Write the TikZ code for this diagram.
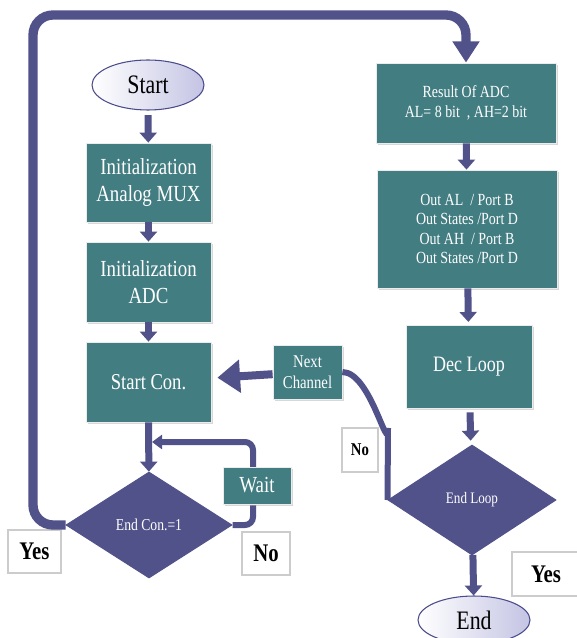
\documentclass[tikz,border=0pt]{standalone}
\usepackage{fontspec}
\setmainfont{Liberation Serif}[FakeStretch=0.82]
\usetikzlibrary{shapes.geometric,arrows.meta,shadows}

\definecolor{boxteal}{RGB}{66,125,130}
\definecolor{flowblue}{RGB}{82,82,138}
\definecolor{ovalrim}{RGB}{75,75,140}
\definecolor{lilac}{RGB}{196,196,228}

\tikzset{every picture/.style={line width=0.75pt}}
\tikzset{
  stepbox/.style={rectangle, fill=boxteal, draw=white!85!gray, line width=0.6pt, text=white, align=center, inner sep=1pt,
    drop shadow={shadow xshift=1.2pt, shadow yshift=-1.5pt, fill=black!30}},
  decision/.style={diamond, fill=flowblue, draw=flowblue, text=white, inner sep=0pt, align=center},
  terminal/.style={ellipse, draw=ovalrim, line width=0.8pt, left color=white, right color=lilac, inner sep=0pt},
  answer/.style={rectangle, fill=white, draw=black!20, line width=0.8pt, font=\bfseries\fontsize{19}{21}\selectfont},
  flow/.style={draw=flowblue, line width=5.25pt, -{Triangle[width=12.75pt,length=7.5pt]}},
  bigloop/.style={draw=flowblue, line width=7pt, rounded corners=15pt, -{Triangle[width=19.5pt,length=16pt]}},
  backflow/.style={draw=flowblue, line width=6pt, -{Triangle[width=24pt,length=17pt]}},
  waitline/.style={draw=flowblue, line width=4.5pt, rounded corners=6pt, -{Triangle[width=10.5pt,length=7.5pt]}},
  nextline/.style={draw=flowblue, line width=4.5pt}
}

\begin{document}
\begin{tikzpicture}[x=0.75pt,y=0.75pt,yscale=-1,xscale=1]
\useasboundingbox (0,0) rectangle (576,638);

% left column
\node [terminal, minimum width=84pt, minimum height=37.5pt, font=\fontsize{20}{22}\selectfont] (start) at (148,85) {Start};
\node [stepbox, minimum width=93.75pt, minimum height=59.25pt, font=\fontsize{17.25}{20}\selectfont] (initmux) at (148.5,182.5) {Initialization\\Analog MUX};
\node [stepbox, minimum width=93.75pt, minimum height=60pt, font=\fontsize{17.25}{20}\selectfont] (initadc) at (148.5,282) {Initialization\\ADC};
\node [stepbox, minimum width=93.75pt, minimum height=60pt, font=\fontsize{17}{20}\selectfont] (startcon) at (148.5,382) {Start Con.};
\node [decision, minimum width=124.5pt, minimum height=79.5pt, font=\fontsize{12.5}{14}\selectfont] (endcon) at (149,525) {End Con.=1};
\coordinate (waitin) at (152,442);

% right column
\node [stepbox, minimum width=135pt, minimum height=60pt, font=\fontsize{12.75}{15}\selectfont] (result) at (466,103) {Result Of ADC\\AL= 8 bit\ \ , AH=2 bit};
\node [stepbox, minimum width=135pt, minimum height=88.5pt, font=\fontsize{12.75}{14.6}\selectfont] (outport) at (467,229) {Out AL\ \ / Port B\\Out States /Port D\\Out AH\ \ / Port B\\Out States /Port D};
\node [stepbox, minimum width=94.5pt, minimum height=62.25pt, font=\fontsize{16.5}{19}\selectfont] (decloop) at (469,366.5) {Dec Loop};
\node [decision, minimum width=126pt, minimum height=82.5pt, font=\fontsize{12}{14}\selectfont] (endloop) at (472,500) {End Loop};
\node [terminal, minimum width=84pt, minimum height=36pt, font=\fontsize{20}{22}\selectfont] (finish) at (474,620) {End};
\node [stepbox, minimum width=51.75pt, minimum height=40.5pt, font=\fontsize{13.5}{15.75}\selectfont] (nextch) at (307.5,372) {Next\\Channel};
\coordinate (bend) at (388,428);

% answers
\node [answer, minimum width=39.75pt, minimum height=32.25pt] (yesleft) at (34.5,551.5) {Yes};
\node [answer, minimum width=36pt, minimum height=32.25pt] (noleft) at (266,553.5) {No};
\node [answer, minimum width=27pt, minimum height=33pt, font=\bfseries\fontsize{13.5}{15}\selectfont] (noright) at (360,450) {No};
\node [answer, minimum width=51pt, minimum height=33pt] (yesright) at (546,574) {Yes};

% connectors
\draw [flow, shorten <=3.5pt] (start) -- (initmux);
\draw [flow] (initmux) -- (initadc);
\draw [flow] (initadc) -- (startcon);
\draw [flow] (startcon) -- (endcon);
\draw [bigloop] (endcon.west) -| (33,15) -| (result.north);
\draw [waitline] (endcon.east) -| (253,442) -- (waitin);
\draw [flow] (result) -- (outport);
\draw [flow, shorten >=2pt] (outport) -- (decloop);
\draw [flow, shorten <=3pt, shorten >=3.5pt] (decloop) -- (endloop);
\draw [flow] (endloop) -- (finish);
\draw [nextline] (nextch.east) to[out=0,in=90] (bend) -- (endloop.west);
\draw [backflow, shorten >=4.5pt] (nextch) -- (startcon);

% wait box sits on the loop
\node [stepbox, minimum width=51pt, minimum height=27.75pt, font=\fontsize{17.25}{20}\selectfont] (wait) at (257,485.5) {Wait};

\end{tikzpicture}
\end{document}
